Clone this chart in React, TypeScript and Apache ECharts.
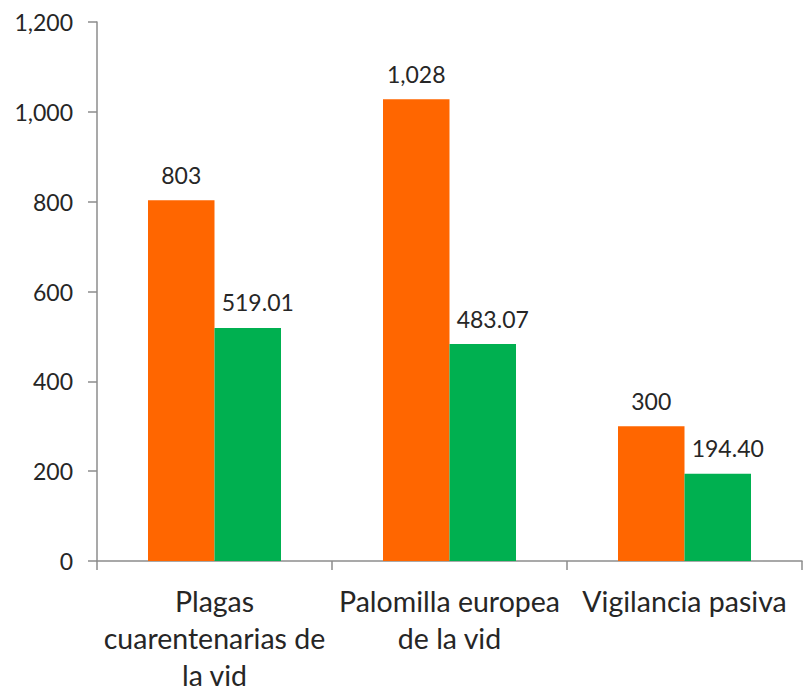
import React, { useEffect, useRef } from "react";
import * as echarts from "echarts";

const categories = [
  "Plagas\ncuarentenarias de\nla vid",
  "Palomilla europea\nde la vid",
  "Vigilancia pasiva",
];
const seriesA = [803, 1028, 300];
const seriesB = [519.01, 483.07, 194.4];
const yTicks = { min: 0, max: 1200, interval: 200 };

const FONT = "Lato";
const AXIS_COLOR = "#8c8c8c";
const TEXT_COLOR = "#262626";

export default function App() {
  const ref = useRef<HTMLDivElement>(null);
  useEffect(() => {
    if (!ref.current) return;
    const chart = echarts.init(ref.current, null, { renderer: "svg" });
    chart.setOption({
      animation: false,
      grid: { left: 97, right: 1, top: 22, bottom: 133, containLabel: false, outerBoundsMode: "none" },
      xAxis: {
        type: "category",
        data: categories,
        axisLine: { show: true, lineStyle: { color: AXIS_COLOR, width: 1.5 } },
        axisTick: { show: true, length: 9, alignWithLabel: false, interval: 0, lineStyle: { color: AXIS_COLOR, width: 1.5 } },
        axisLabel: {
          interval: 0,
          margin: 21,
          fontFamily: FONT,
          fontSize: 28.5,
          lineHeight: 37,
          color: TEXT_COLOR,
        },
      },
      yAxis: {
        type: "value",
        min: yTicks.min,
        max: yTicks.max,
        interval: yTicks.interval,
        splitLine: { show: false },
        axisLine: { show: true, lineStyle: { color: AXIS_COLOR, width: 1.5 } },
        axisTick: { show: true, length: 9, lineStyle: { color: AXIS_COLOR, width: 1.5 } },
        axisLabel: {
          margin: 24,
          fontFamily: FONT,
          fontSize: 23,
          color: TEXT_COLOR,
          formatter: (v: number) => v.toLocaleString("en-US"),
        },
      },
      series: [
        {
          type: "bar",
          data: seriesA,
          barWidth: 66.5,
          barGap: "0%",
          itemStyle: { color: "#FF6600" },
          label: {
            show: true,
            position: "top",
            distance: 14,
            fontFamily: FONT,
            fontSize: 23,
            color: TEXT_COLOR,
            formatter: (p: any) => Number(p.value).toLocaleString("en-US"),
          },
        },
        {
          type: "bar",
          data: seriesB,
          barWidth: 66.5,
          barGap: "0%",
          itemStyle: { color: "#00B050" },
          label: {
            show: true,
            position: "top",
            distance: 14,
            offset: [10, 0],
            fontFamily: FONT,
            fontSize: 23,
            color: TEXT_COLOR,
            formatter: (p: any) => Number(p.value).toFixed(2),
          },
        },
      ],
    });
    return () => chart.dispose();
  }, []);
  return <div ref={ref} style={{ width: 803, height: 694, position: "absolute", left: 0, top: 0 }} />;
}
